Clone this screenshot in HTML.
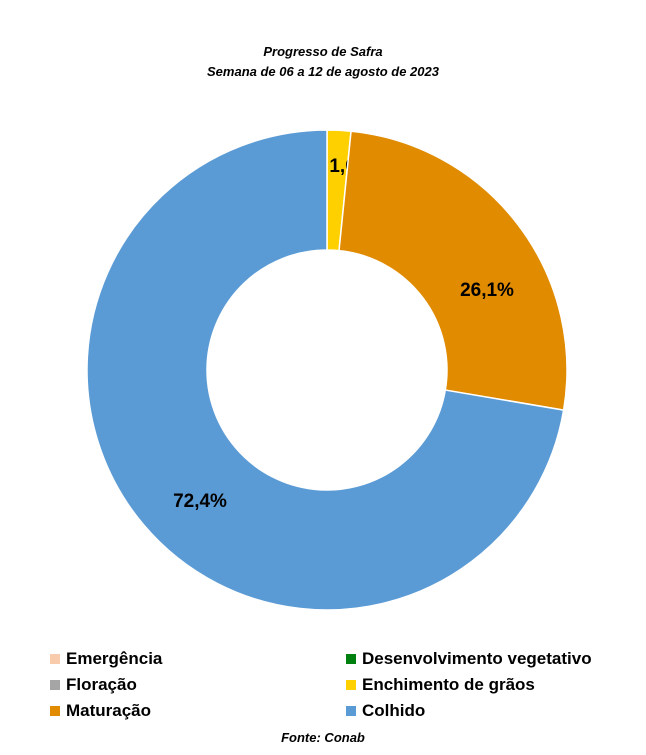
<!DOCTYPE html>
<html><head><meta charset="utf-8">
<style>
body{margin:0;background:#fff;font-family:"Liberation Sans",Arial,sans-serif;}
#wrap{position:relative;width:646px;height:755px;overflow:hidden;}
.t{position:absolute;left:0;width:646px;text-align:center;font-style:italic;font-weight:bold;font-size:13px;color:#000;}
.leg{position:absolute;font-size:17px;font-weight:bold;color:#000;display:flex;align-items:center;}
.leg i{display:inline-block;width:10px;height:10px;margin-right:6px;}
</style></head><body>
<div id="wrap">
<div class="t" style="top:44px">Progresso de Safra</div>
<div class="t" style="top:64px">Semana de 06 a 12 de agosto de 2023</div>
<svg id="pie" width="646" height="755" style="position:absolute;left:0;top:0"></svg>
<div class="leg" style="left:50px;top:649px"><i style="background:#F8CBAD"></i>Emergência</div>
<div class="leg" style="left:346px;top:649px"><i style="background:#00800F"></i>Desenvolvimento vegetativo</div>
<div class="leg" style="left:50px;top:675px"><i style="background:#A5A5A5"></i>Floração</div>
<div class="leg" style="left:346px;top:675px"><i style="background:#FFD000"></i>Enchimento de grãos</div>
<div class="leg" style="left:50px;top:701px"><i style="background:#E08B00"></i>Maturação</div>
<div class="leg" style="left:346px;top:701px"><i style="background:#5B9BD5"></i>Colhido</div>
<div class="t" style="top:730px;left:0">Fonte: Conab</div>
</div>
<script>
const categories=["Emergência","Desenvolvimento vegetativo","Floração","Enchimento de grãos","Maturação","Colhido"];
const values=[0,0,0,1.6,26.1,72.4];
const labels=["","","","1,6%","26,1%","72,4%"];
const colors=["#F8CBAD","#00800F","#A5A5A5","#FFD000","#E08B00","#5B9BD5"];
const labelPos=[[0,0],[0,0],[0,0],[351,165],[487,289],[200,500]];
const cx=327,cy=370,R=240,r=120;
const svg=document.getElementById('pie');const NS="http://www.w3.org/2000/svg";
const total=values.reduce((a,b)=>a+b,0);
let a0=0;
function pt(a,rad){return [cx+rad*Math.sin(a),cy-rad*Math.cos(a)];}
values.forEach((v,i)=>{
 if(v<=0)return;
 const a1=a0+v/total*2*Math.PI;const lg=(a1-a0)>Math.PI?1:0;
 const p1=pt(a0,R),p2=pt(a1,R),p3=pt(a1,r),p4=pt(a0,r);
 const p=document.createElementNS(NS,'path');
 p.setAttribute('d',`M${p1[0]},${p1[1]}A${R},${R} 0 ${lg} 1 ${p2[0]},${p2[1]}L${p3[0]},${p3[1]}A${r},${r} 0 ${lg} 0 ${p4[0]},${p4[1]}Z`);
 p.setAttribute('fill',colors[i]);p.setAttribute('stroke','#fff');p.setAttribute('stroke-width','1.5');
 
 
 svg.appendChild(p);
 const mid=(a0+a1)/2;const lp=pt(mid,(R+r)/2);
 const t=document.createElementNS(NS,'text');
 const pos=labelPos[i][0]?labelPos[i]:lp;
 t.setAttribute('x',pos[0]);t.setAttribute('y',pos[1]+7);
 t.setAttribute('text-anchor','middle');t.setAttribute('font-size','19');t.setAttribute('font-weight','bold');
 t.setAttribute('font-family','Liberation Sans, Arial, sans-serif');
 t.textContent=labels[i];
 
 
 svg.appendChild(t);
 a0=a1;
});
</script>
</body></html>
